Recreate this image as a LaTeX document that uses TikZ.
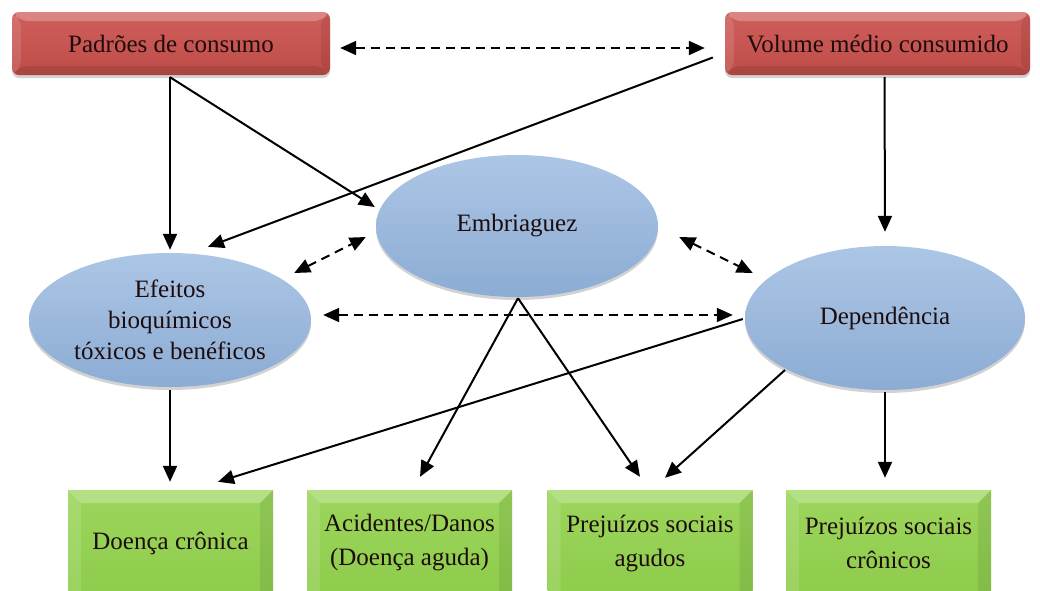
\documentclass[tikz,border=0pt]{standalone}
\usepackage{fontspec}
\setmainfont{Liberation Serif}
\usetikzlibrary{arrows.meta,calc,shadows,shapes.geometric}
\definecolor{redtop}{RGB}{208,94,90}
\definecolor{redbot}{RGB}{190,76,72}
\definecolor{bluetop}{RGB}{172,198,229}
\definecolor{bluebot}{RGB}{140,172,212}
\definecolor{greentop}{RGB}{156,214,92}
\definecolor{greenbot}{RGB}{142,204,76}
\definecolor{txtdark}{RGB}{30,12,12}
\newcommand\bevelpic[1]{%
  \fill[white,opacity=.25] (path picture bounding box.north west) -- (path picture bounding box.north east) -- ([xshift=-#1,yshift=-#1]path picture bounding box.north east) -- ([xshift=#1,yshift=-#1]path picture bounding box.north west) -- cycle;
  \fill[white,opacity=.12] (path picture bounding box.north west) -- ([xshift=#1,yshift=-#1]path picture bounding box.north west) -- ([xshift=#1,yshift=#1]path picture bounding box.south west) -- (path picture bounding box.south west) -- cycle;
  \fill[black,opacity=.08] (path picture bounding box.north east) -- ([xshift=-#1,yshift=-#1]path picture bounding box.north east) -- ([xshift=-#1,yshift=#1]path picture bounding box.south east) -- (path picture bounding box.south east) -- cycle;
  \fill[black,opacity=.10] (path picture bounding box.south west) -- ([xshift=#1,yshift=#1]path picture bounding box.south west) -- ([xshift=-#1,yshift=#1]path picture bounding box.south east) -- (path picture bounding box.south east) -- cycle;
}
\newcommand\bevelopen[1]{%
  \fill[white,opacity=.25] (path picture bounding box.north west) -- (path picture bounding box.north east) -- ([xshift=-#1,yshift=-#1]path picture bounding box.north east) -- ([xshift=#1,yshift=-#1]path picture bounding box.north west) -- cycle;
  \fill[white,opacity=.12] (path picture bounding box.north west) -- ([xshift=#1,yshift=-#1]path picture bounding box.north west) -- ([xshift=#1]path picture bounding box.south west) -- (path picture bounding box.south west) -- cycle;
  \fill[black,opacity=.08] (path picture bounding box.north east) -- ([xshift=-#1,yshift=-#1]path picture bounding box.north east) -- ([xshift=-#1]path picture bounding box.south east) -- (path picture bounding box.south east) -- cycle;
}
\tikzset{
  txt/.style={font=\fontsize{25}{31}\selectfont, text=txtdark, align=center},
  redbox/.style={txt, rectangle, rounded corners=7pt, inner sep=0pt,
    minimum height=63pt, top color=redtop, bottom color=redbot,
    drop shadow={opacity=0.35, shadow xshift=0pt, shadow yshift=-3pt},
    path picture={\bevelpic{9pt}}},
  blueell/.style={txt, ellipse, inner sep=0pt, top color=bluetop, bottom color=bluebot,
    drop shadow={opacity=0.35, shadow xshift=0pt, shadow yshift=-3pt}},
  greenbox/.style={txt, rectangle, inner sep=0pt, minimum width=205pt,
    minimum height=106pt, top color=greentop, bottom color=greenbot,
    font=\fontsize{25}{34}\selectfont,
    drop shadow={opacity=0.3, shadow xshift=0pt, shadow yshift=-3pt},
    path picture={\bevelopen{13pt}}},
  arr/.style={line width=2pt, -{Triangle[length=16pt,width=14pt]}},
  darr/.style={line width=2pt, dash pattern=on 9pt off 6pt,
    {Triangle[length=16pt,width=14pt]}-{Triangle[length=16pt,width=14pt]}},
}
\begin{document}
\begin{tikzpicture}[x=1pt,y=-1pt]
\useasboundingbox (0,0) rectangle (1040,590);
\clip (0,0) rectangle (1040,590);
\fill[white] (0,0) rectangle (1040,590);

% top boxes
\node[redbox, minimum width=318pt] (pad) at (171,43.5) {Padrões de consumo};
\node[redbox, minimum width=305pt] (vol) at (877.5,43.5) {Volume médio consumido};

% ellipses
\node[blueell, minimum width=282pt, minimum height=142pt] (emb) at (517,226) {Embriaguez};
\node[blueell, minimum width=282pt, minimum height=134pt] (eff) at (170,320) {Efeitos\\bioquímicos\\tóxicos e benéficos};
\node[blueell, minimum width=280pt, minimum height=144pt] (dep) at (885,318) {Dependência};

% bottom boxes
\node[greenbox] (g1) at (170.5,543) {Doença crônica};
\node[greenbox] (g2) at (409.5,543) {Acidentes/Danos\\(Doença aguda)};
\node[greenbox] (g3) at (650,543) {Prejuízos sociais\\agudos};
\node[greenbox] (g4) at (888.5,543) {Prejuízos sociais\\crônicos};

% solid arrows
\draw[arr] ($(pad.south)+(-1,2)$) -- ($(eff.north)+(0,-3)$);
\draw[arr] ($(pad.south)+(-1,2)$) -- ($(emb.west)+(-1,-19)$);
\draw[arr] ($(vol.west)+(-12,14)$) -- ($(eff.north)+(38,-6)$);
\draw[arr] ($(vol.south)+(7,2)$) -- ($(dep.north)+(0,-14)$);
\draw[arr] ($(eff.south)+(0,3)$) -- ($(g1.north)+(-0.5,-8)$);
\draw[arr] ($(dep.west)+(-2,1)$) -- ($(g1.north)+(47.5,-8)$);
\draw[arr] ($(emb.south)+(1,1)$) -- ($(g2.north)+(10.5,-13)$);
\draw[arr] ($(emb.south)+(1,1)$) -- ($(g3.north)+(-10,-13)$);
\draw[arr] ($(dep.center)+(-100,52)$) -- ($(g3.north)+(15,-12)$);
\draw[arr] ($(dep.south)+(0,2)$) -- ($(g4.north)+(-3.5,-12)$);

% dashed double arrows
\draw[darr] ($(pad.east)+(10,4.5)$) -- ($(vol.west)+(-20,4.5)$);
\draw[darr] ($(eff.east)+(-17,-47)$) -- ($(emb.west)+(-10,11)$);
\draw[darr] ($(emb.east)+(21,11)$) -- ($(dep.west)+(8,-45)$);
\draw[darr] ($(eff.east)+(12,-5)$) -- ($(dep.west)+(-12,-3)$);
\end{tikzpicture}
\end{document}
